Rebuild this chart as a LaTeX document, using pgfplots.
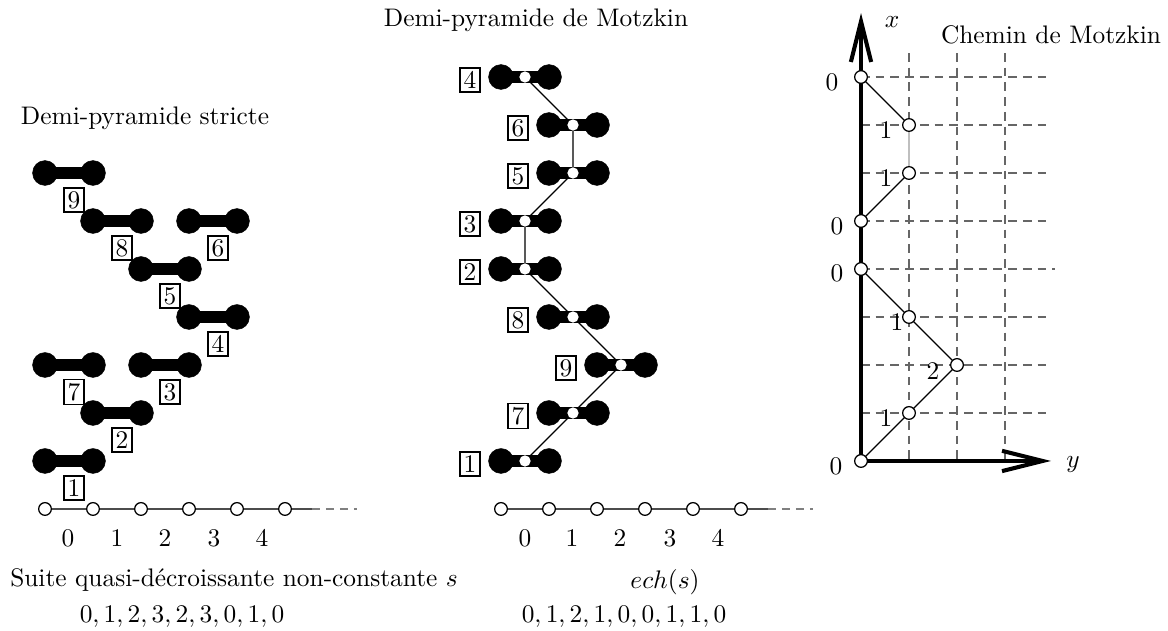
\documentclass[border=0pt]{standalone}
\usepackage{pgfplots}
\pgfplotsset{compat=1.18}
\usetikzlibrary{arrows.meta}

% dimer end circles / centre dots
\pgfplotsset{
  dimer/.style={black, line width=4.6pt, mark=*, mark size=4.9pt,
    mark options={solid, line width=0.2pt, fill=black}},
  ring/.style={only marks, mark=*, mark size=2.5pt,
    mark options={fill=white, draw=black, line width=0.5pt}},
  grid line/.style={gray!80!black, line width=0.5pt, dash pattern=on 3.4pt off 2.4pt},
}
\tikzset{lbl/.style={draw, line width=0.7pt, inner sep=1.4pt, fill=white}}

\begin{document}
\begin{tikzpicture}
\useasboundingbox (0,0) rectangle (460.2pt,-248.6pt);
\begin{axis}[at={(0,0)}, anchor=north west, scale only axis,
  width=460.2pt, height=248.6pt,
  xmin=0, xmax=1168, ymin=0, ymax=631, y dir=reverse,
  hide axis, clip=false, unbounded coords=jump]

% ---------- Demi-pyramide stricte ----------
\addplot[gray!60!black, line width=0.8pt] coordinates {(45,509)(312,509)};
\addplot[gray, line width=0.8pt, dash pattern=on 3pt off 2.5pt] coordinates {(312,509)(357,509)};
\addplot[ring] coordinates {(45,509)(93,509)(141,509)(189,509)(237,509)(285,509)};

\addplot[dimer] coordinates {
  (45,461)(93,461) (nan,nan)
  (93,413)(141,413) (nan,nan)
  (141,365)(189,365) (nan,nan)
  (189,317)(237,317) (nan,nan)
  (141,269)(189,269) (nan,nan)
  (189,221)(237,221) (nan,nan)
  (45,365)(93,365) (nan,nan)
  (93,221)(141,221) (nan,nan)
  (45,173)(93,173)};

\node[lbl] at (axis cs:74,488) {1};
\node[lbl] at (axis cs:122,440) {2};
\node[lbl] at (axis cs:170,392) {3};
\node[lbl] at (axis cs:218,344) {4};
\node[lbl] at (axis cs:170,296) {5};
\node[lbl] at (axis cs:218,248) {6};
\node[lbl] at (axis cs:74,392) {7};
\node[lbl] at (axis cs:122,248) {8};
\node[lbl] at (axis cs:74,200) {9};

\node at (axis cs:68,538) {$0$};
\node at (axis cs:117,538) {$1$};
\node at (axis cs:165,538) {$2$};
\node at (axis cs:214,538) {$3$};
\node at (axis cs:262,538) {$4$};

\node at (axis cs:145,118) {Demi-pyramide stricte};
\node at (axis cs:234,580) {Suite quasi-décroissante non-constante $s$};
\node at (axis cs:182,617) {$0,1,2,3,2,3,0,1,0$};

% ---------- Demi-pyramide de Motzkin ----------
\addplot[gray!60!black, line width=0.8pt] coordinates {(501,509)(768,509)};
\addplot[gray, line width=0.8pt, dash pattern=on 3pt off 2.5pt] coordinates {(768,509)(813,509)};
\addplot[ring] coordinates {(501,509)(549,509)(597,509)(645,509)(693,509)(741,509)};

\addplot[dimer] coordinates {
  (501,461)(549,461) (nan,nan)
  (549,413)(597,413) (nan,nan)
  (597,365)(645,365) (nan,nan)
  (549,317)(597,317) (nan,nan)
  (501,269)(549,269) (nan,nan)
  (501,221)(549,221) (nan,nan)
  (549,173)(597,173) (nan,nan)
  (549,125)(597,125) (nan,nan)
  (501,77)(549,77)};
\addplot[black, line width=0.5pt] coordinates {
  (525,461)(573,413)(621,365)(573,317)(525,269)(525,221)(573,173)(573,125)(525,77)};
\addplot[only marks, mark=*, mark size=2pt, mark options={fill=white, draw=white}] coordinates {
  (525,461)(573,413)(621,365)(573,317)(525,269)(525,221)(573,173)(573,125)(525,77)};

\node[lbl] at (axis cs:470,464) {1};
\node[lbl] at (axis cs:518,416) {7};
\node[lbl] at (axis cs:566,368) {9};
\node[lbl] at (axis cs:518,320) {8};
\node[lbl] at (axis cs:470,272) {2};
\node[lbl] at (axis cs:470,224) {3};
\node[lbl] at (axis cs:518,176) {5};
\node[lbl] at (axis cs:518,128) {6};
\node[lbl] at (axis cs:470,80) {4};

\node at (axis cs:525,538) {$0$};
\node at (axis cs:572,538) {$1$};
\node at (axis cs:620,538) {$2$};
\node at (axis cs:670,538) {$3$};
\node at (axis cs:718,538) {$4$};

\node at (axis cs:536,20) {Demi-pyramide de Motzkin};
\node at (axis cs:665,582) {$ech(s)$};
\node at (axis cs:624,617) {$0,1,2,1,0,0,1,1,0$};

% ---------- Chemin de Motzkin ----------
\addplot[grid line] coordinates {(909,53)(909,461)};
\addplot[grid line] coordinates {(957,53)(957,461)};
\addplot[grid line] coordinates {(1005,53)(1005,461)};
\addplot[grid line] coordinates {(861,413)(1048,413)};
\addplot[grid line] coordinates {(861,365)(1048,365)};
\addplot[grid line] coordinates {(861,317)(1048,317)};
\addplot[grid line] coordinates {(861,269)(1055,269)};
\addplot[grid line] coordinates {(861,221)(1048,221)};
\addplot[grid line] coordinates {(861,173)(1048,173)};
\addplot[grid line] coordinates {(861,125)(1048,125)};
\addplot[grid line] coordinates {(861,77)(1048,77)};

\addplot[black, line width=1.6pt, -{Straight Barb[length=16pt, width=8pt]}] coordinates {(861,462)(861,13)};
\addplot[black, line width=1.6pt, -{Straight Barb[length=16pt, width=8pt]}] coordinates {(860,461)(1051,461)};

\addplot[black, line width=0.5pt] coordinates {(861,461)(909,413)(957,365)(909,317)(861,269)(861,221)(909,173)};
\addplot[gray!50, line width=0.5pt] coordinates {(909,173)(909,125)};
\addplot[black, line width=0.5pt] coordinates {(909,125)(861,77)};
\addplot[ring] coordinates {(861,461)(909,413)(957,365)(909,317)(861,269)(861,221)(909,173)(909,125)(861,77)};

\node at (axis cs:836,466) {$0$};
\node at (axis cs:886,418) {$1$};
\node at (axis cs:933,371) {$2$};
\node at (axis cs:897,322) {$1$};
\node at (axis cs:837,273) {$0$};
\node at (axis cs:837,226) {$0$};
\node at (axis cs:886,178) {$1$};
\node at (axis cs:886,130) {$1$};
\node at (axis cs:832,82) {$0$};

\node at (axis cs:892,22) {$x$};
\node at (axis cs:1073,465) {$y$};
\node at (axis cs:1051,35) {Chemin de Motzkin};
\end{axis}
\end{tikzpicture}
\end{document}
